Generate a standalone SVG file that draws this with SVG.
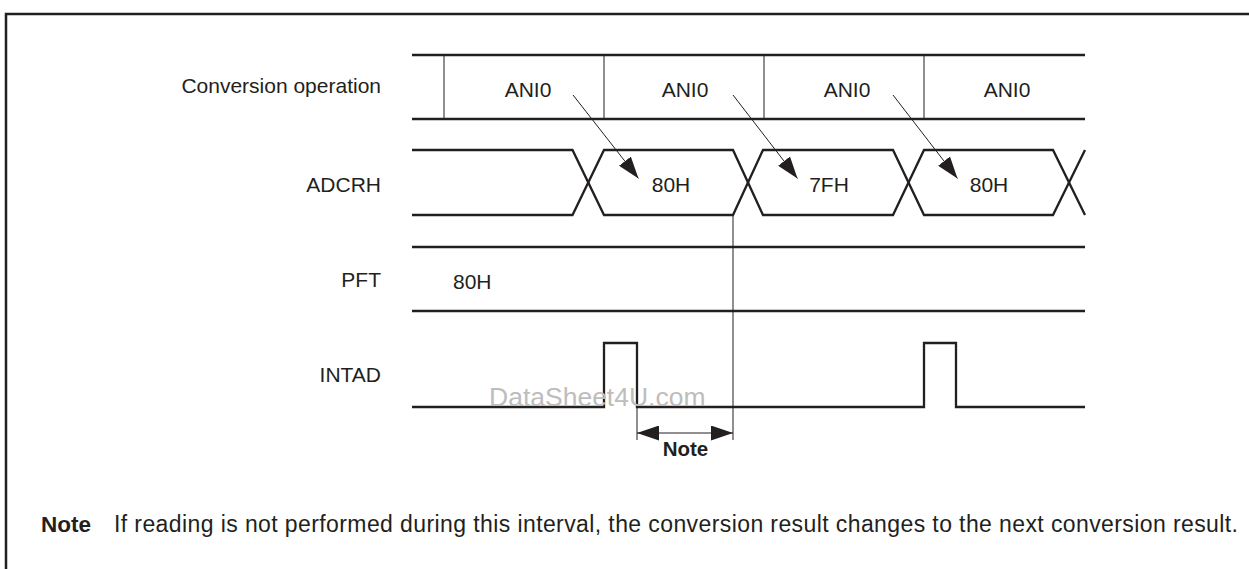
<svg xmlns="http://www.w3.org/2000/svg" width="1249" height="569" viewBox="0 0 1249 569">
<style>
text{font-family:"Liberation Sans",Arial,sans-serif;fill:#231f20}
.lbl{font-size:21px;text-anchor:end}
.val{font-size:21px;text-anchor:middle}
.sig{fill:none;stroke:#231f20;stroke-width:2.3;stroke-linejoin:miter}
.thin{fill:none;stroke:#231f20;stroke-width:1}
.wm{font-size:26.5px;fill:#bdbdbd}
</style>
<defs>
<marker id="ah" viewBox="0 0 22 15" refX="22" refY="7.5" markerWidth="22" markerHeight="15" markerUnits="userSpaceOnUse" orient="auto">
<path d="M0,0 L22,7.5 L0,15 Z" fill="#231f20"/>
</marker>
<marker id="ahs" viewBox="0 0 22 15" refX="0" refY="7.5" markerWidth="22" markerHeight="15" markerUnits="userSpaceOnUse" orient="auto">
<path d="M22,0 L0,7.5 L22,15 Z" fill="#231f20"/>
</marker>
</defs>
<rect x="6" y="14" width="1300" height="600" fill="none" stroke="#231f20" stroke-width="2.5"/>

<g id="conversion">
<text class="lbl" x="381" y="93">Conversion operation</text>
<path class="sig" d="M412,55 H1085 M412,119 H1085"/>
<path class="thin" d="M444,55 V119 M604,55 V119 M764,55 V119 M924,55 V119"/>
<text class="val" x="528" y="97">ANI0</text>
<text class="val" x="685" y="97">ANI0</text>
<text class="val" x="847" y="97">ANI0</text>
<text class="val" x="1007" y="97">ANI0</text>
</g>

<g id="adcrh">
<text class="lbl" x="381" y="192">ADCRH</text>
<path class="sig" d="M412,150 H572.5 L604,215 H733 L763,150 H893 L924,215 H1053 L1085,150"/>
<path class="sig" d="M412,215 H572.5 L604,150 H733 L763,215 H893 L924,150 H1053 L1085,215"/>
<text class="val" x="671" y="192">80H</text>
<text class="val" x="829" y="192">7FH</text>
<text class="val" x="989" y="192">80H</text>
</g>

<g id="pft">
<text class="lbl" x="381" y="287">PFT</text>
<path class="sig" d="M412,247 H1085 M412,311 H1085"/>
<text x="453" y="289" style="font-size:21px">80H</text>
</g>

<g id="intad">
<text class="lbl" x="381" y="382">INTAD</text>
<path class="sig" d="M412,407 H604 V343 H637 V407 H924 V343 H956 V407 H1085"/>
</g>

<text class="wm" x="489" y="406">DataSheet4U.com</text>

<g id="connectors">
<line class="thin" x1="573" y1="95" x2="638.5" y2="178.5" marker-end="url(#ah)"/>
<line class="thin" x1="733" y1="95" x2="797.5" y2="178.5" marker-end="url(#ah)"/>
<line class="thin" x1="893" y1="95" x2="957.5" y2="178.5" marker-end="url(#ah)"/>
<line class="thin" x1="733" y1="215" x2="733" y2="440"/>
<line class="thin" x1="637" y1="407" x2="637" y2="440"/>
<line class="thin" x1="637" y1="433" x2="733" y2="433" marker-start="url(#ahs)" marker-end="url(#ah)"/>
</g>

<g id="note">
<text x="685.5" y="456" style="font-size:20.5px;font-weight:bold;text-anchor:middle">Note</text>
<text x="41" y="532" style="font-size:22.5px;font-weight:bold">Note</text>
<text x="114" y="532" style="font-size:23px" textLength="1124" lengthAdjust="spacing">If reading is not performed during this interval, the conversion result changes to the next conversion result.</text>
</g>
</svg>
